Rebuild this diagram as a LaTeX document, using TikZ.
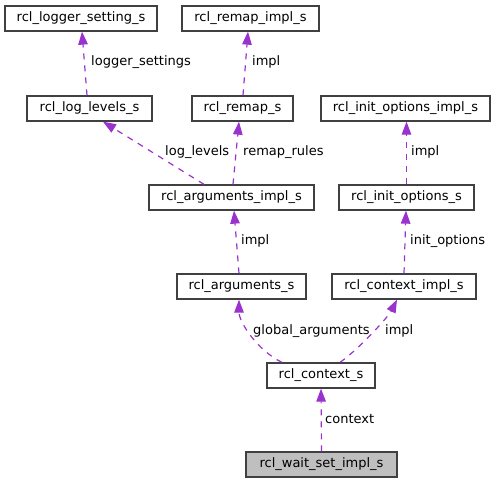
\documentclass[tikz,border=0pt]{standalone}
\usepackage{fontspec}
\setmainfont{DejaVu Sans}
\usetikzlibrary{arrows.meta}
\definecolor{dep}{HTML}{9A32CD}
\definecolor{boxline}{HTML}{404040}
\tikzset{
  cls/.style={draw=boxline, line width=1.3pt, fill=white, minimum height=25pt, inner sep=0pt, font=\fontsize{13}{15}\selectfont},
  usage/.style={draw=dep, line width=1.2pt, dash pattern=on 6pt off 6pt, -{Triangle[length=13pt,width=9.5pt,fill=dep]}},
  lbl/.style={anchor=west, inner sep=0pt, font=\fontsize{13}{15}\selectfont}
}
\begin{document}
\begin{tikzpicture}[x=1pt,y=-1pt]
\useasboundingbox (0,0) rectangle (497,484);
\node[cls, minimum width=152pt] (logger) at (81,18.5) {rcl\_logger\_setting\_s};
\node[cls, minimum width=137pt] (remapimpl) at (250.5,18.5) {rcl\_remap\_impl\_s};
\node[cls, minimum width=125pt] (loglevels) at (89.5,108.5) {rcl\_log\_levels\_s};
\node[cls, minimum width=101pt] (remap) at (242.5,108.5) {rcl\_remap\_s};
\node[cls, minimum width=169pt] (initimpl) at (405.5,108.5) {rcl\_init\_options\_impl\_s};
\node[cls, minimum width=165pt] (argsimpl) at (231.5,197.5) {rcl\_arguments\_impl\_s};
\node[cls, minimum width=135pt] (initopt) at (406.5,197.5) {rcl\_init\_options\_s};
\node[cls, minimum width=129pt] (args) at (241.5,286.5) {rcl\_arguments\_s};
\node[cls, minimum width=144pt] (ctximpl) at (404,286.5) {rcl\_context\_impl\_s};
\node[cls, minimum width=108pt] (ctx) at (321,375.5) {rcl\_context\_s};
\node[cls, minimum width=151pt, fill={rgb,255:red,191;green,191;blue,191}] (wait) at (321.5,464.5) {rcl\_wait\_set\_impl\_s};

\draw[usage] ([xshift=-2.5pt]loglevels.north) -- ([xshift=1pt]logger.south);
\draw[usage] ([xshift=0.5pt]remap.north) -- ([xshift=-2.5pt]remapimpl.south);
\draw[usage] ([xshift=-27.5pt]argsimpl.north) -- ([xshift=13.5pt]loglevels.south);
\draw[usage] ([xshift=1.5pt]argsimpl.north) -- ([xshift=-3.5pt]remap.south);
\draw[usage] (initopt.north) -- ([xshift=1pt]initimpl.south);
\draw[usage] ([xshift=-2.5pt]args.north) -- ([xshift=2.5pt]argsimpl.south);
\draw[usage] (ctximpl.north) -- ([xshift=-0.5pt]initopt.south);
\draw[usage] ([xshift=-39pt]ctx.north) .. controls +(-25,-12) and +(0,22) .. ([xshift=-2.5pt]args.south);
\draw[usage] ([xshift=19pt]ctx.north) .. controls +(20,-14) and +(-8,16) .. ([xshift=-7pt]ctximpl.south);
\draw[usage] (wait.north) -- (ctx.south);

\node[lbl] (l1) at (91,62) {logger\_settings};
\node[lbl] (l2) at (252,62) {impl};
\node[lbl] (l3) at (165,152) {log\_levels};
\node[lbl] (l4) at (243,152) {remap\_rules};
\node[lbl] (l5) at (411,152) {impl};
\node[lbl] (l6) at (241,241) {impl};
\node[lbl] (l7) at (410,241) {init\_options};
\node[lbl] (l8) at (253,331) {global\_arguments};
\node[lbl] (l9) at (385,331) {impl};
\node[lbl] (l10) at (325,419) {context};
\end{tikzpicture}
\end{document}
